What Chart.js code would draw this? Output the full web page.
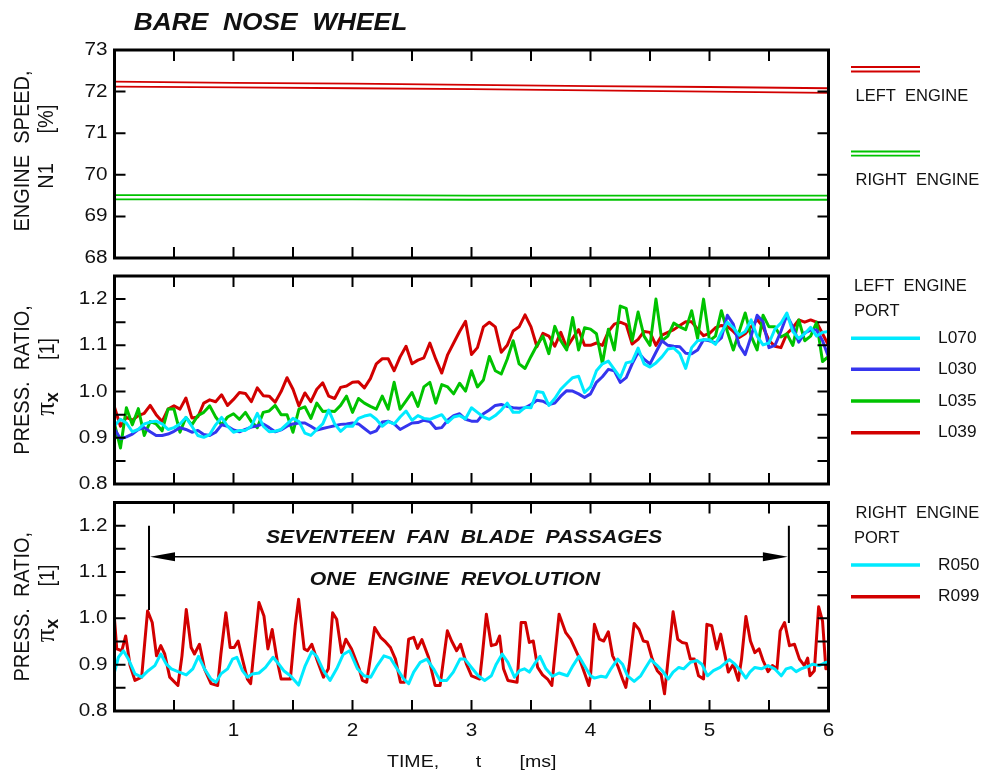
<!DOCTYPE html>
<html>
<head>
<meta charset="utf-8">
<script src="https://cdn.jsdelivr.net/npm/chart.js@4.4.1/dist/chart.umd.min.js"></script>
<style>
  html, body { margin: 0; padding: 0; background: #fff; }
  #wrap { position: relative; width: 987px; height: 774px; }
  .panel { position: absolute; left: 0; top: 0; width: 987px; height: 774px; }
</style>
</head>
<body>
<div id="wrap">
  <div class="panel"><canvas id="speed"></canvas></div>
  <div class="panel"><canvas id="left"></canvas></div>
  <div class="panel"><canvas id="right"></canvas></div>
</div>
<script>
// ============================================================
// Data
// ============================================================
const xTickValues = [1, 2, 3, 4, 5, 6];
const xTickLabels = ['1', '2', '3', '4', '5', '6'];
const xMinorTicks = [0.5, 1, 1.5, 2, 2.5, 3, 3.5, 4, 4.5, 5, 5.5];

const n1TickValues = [68, 69, 70, 71, 72, 73];
const n1TickLabels = ['68', '69', '70', '71', '72', '73'];
const n1MinorTicks = [69, 70, 71, 72];

const prTickValues = [0.8, 0.9, 1.0, 1.1, 1.2];
const prTickLabels = ['0.8', '0.9', '1.0', '1.1', '1.2'];
const prMinorTicks = [0.85, 0.9, 0.95, 1.0, 1.05, 1.1, 1.15, 1.2];

// engine speed N1 [%], two traces per engine
const n1Time   = [0, 1, 2, 3, 4, 5, 6];
const n1LeftA  = [72.24, 72.21, 72.19, 72.16, 72.13, 72.11, 72.08];
const n1LeftB  = [72.12, 72.10, 72.08, 72.06, 72.03, 72.00, 71.97];
const n1RightA = [69.51, 69.51, 69.51, 69.50, 69.50, 69.50, 69.50];
const n1RightB = [69.41, 69.41, 69.41, 69.40, 69.40, 69.40, 69.40];

// left engine ports, sampled every 0.05 ms from 0 to 6 ms
const portTime = [];
for (let i = 0; i <= 120; i++) portTime.push(+(i * 0.05).toFixed(2));

const l070 = [
  0.926,0.940,0.932,0.913,0.918,0.930,0.934,0.936,0.930,0.918,
  0.922,0.930,0.944,0.925,0.905,0.901,0.907,0.928,0.944,0.925,
  0.912,0.916,0.916,0.925,0.953,0.925,0.913,0.914,0.918,0.930,
  0.942,0.935,0.910,0.905,0.918,0.930,0.960,0.930,0.914,0.925,
  0.925,0.942,0.947,0.950,0.940,0.925,0.935,0.930,0.945,0.958,
  0.938,0.948,0.942,0.940,0.945,0.950,0.933,0.945,0.948,0.941,
  0.965,0.955,0.945,0.940,0.948,0.960,0.975,0.955,0.955,0.966,
  0.965,1.000,0.998,0.970,0.985,1.005,1.018,1.030,1.033,0.998,
  1.010,1.045,1.060,1.066,1.048,1.030,1.062,1.065,1.094,1.060,
  1.053,1.062,1.075,1.092,1.094,1.082,1.050,1.095,1.110,1.112,
  1.112,1.102,1.128,1.150,1.138,1.122,1.130,1.155,1.120,1.101,
  1.105,1.135,1.148,1.170,1.130,1.115,1.125,1.139,1.120,1.128,
  1.130
];
const l030 = [
  0.919,0.898,0.902,0.908,0.918,0.922,0.913,0.905,0.905,0.908,
  0.914,0.922,0.918,0.912,0.916,0.907,0.905,0.912,0.928,0.925,
  0.917,0.913,0.918,0.923,0.926,0.930,0.922,0.913,0.917,0.925,
  0.930,0.932,0.932,0.925,0.917,0.920,0.923,0.926,0.929,0.930,
  0.932,0.930,0.920,0.910,0.915,0.934,0.936,0.930,0.918,0.925,
  0.932,0.933,0.938,0.935,0.920,0.922,0.938,0.948,0.952,0.940,
  0.936,0.936,0.952,0.960,0.970,0.972,0.968,0.965,0.964,0.965,
  0.972,0.981,0.979,0.972,0.975,0.990,1.002,1.001,0.995,0.987,
  0.995,1.020,1.032,1.048,1.045,1.020,1.030,1.060,1.085,1.070,
  1.060,1.085,1.110,1.100,1.098,1.097,1.083,1.082,1.090,1.112,
  1.110,1.105,1.116,1.165,1.146,1.100,1.080,1.120,1.165,1.151,
  1.095,1.100,1.130,1.165,1.140,1.107,1.127,1.133,1.133,1.110,
  1.075
];
const l035 = [
  0.930,0.878,0.965,0.928,0.963,0.905,0.935,0.930,0.915,0.962,
  0.962,0.912,0.944,0.928,0.948,0.955,0.969,0.945,0.928,0.945,
  0.952,0.940,0.955,0.935,0.922,0.955,0.958,0.970,0.950,0.950,
  0.912,0.962,0.967,0.942,0.975,0.957,0.958,0.957,0.970,0.990,
  0.955,0.985,0.975,0.968,0.962,0.990,0.962,1.020,0.962,0.980,
  0.998,0.968,1.010,1.020,0.975,1.015,1.010,0.995,1.018,1.001,
  1.045,1.010,1.025,1.076,1.045,1.038,1.070,1.110,1.060,1.050,
  1.076,1.100,1.120,1.082,1.141,1.110,1.090,1.160,1.090,1.138,
  1.135,1.125,1.060,1.135,1.090,1.185,1.180,1.110,1.172,1.120,
  1.100,1.200,1.110,1.120,1.148,1.140,1.134,1.175,1.115,1.200,
  1.110,1.120,1.175,1.130,1.090,1.130,1.170,1.120,1.090,1.165,
  1.140,1.140,1.118,1.125,1.100,1.155,1.110,1.120,1.150,1.065,
  1.076
];
const l039 = [
  0.966,0.925,0.944,0.938,0.948,0.953,0.970,0.950,0.935,0.962,
  0.969,0.962,0.986,0.943,0.945,0.975,0.982,0.978,0.993,0.970,
  0.983,0.998,0.996,0.978,1.008,0.991,0.990,0.977,1.000,1.030,
  1.005,0.969,0.997,0.978,1.005,1.019,0.990,0.985,1.009,1.012,
  1.020,1.021,1.008,1.028,1.060,1.071,1.071,1.045,1.075,1.098,
  1.060,1.068,1.073,1.105,1.070,1.040,1.080,1.105,1.130,1.152,
  1.080,1.095,1.140,1.150,1.140,1.085,1.100,1.131,1.140,1.166,
  1.140,1.097,1.126,1.120,1.098,1.128,1.095,1.115,1.134,1.100,
  1.100,1.105,1.100,1.130,1.146,1.150,1.145,1.103,1.113,1.130,
  1.128,1.100,1.122,1.128,1.134,1.143,1.151,1.151,1.135,1.121,
  1.126,1.138,1.143,1.141,1.130,1.117,1.125,1.140,1.156,1.140,
  1.110,1.098,1.095,1.125,1.138,1.155,1.150,1.155,1.150,1.125,
  1.100
];

// right engine ports, traced vertex by vertex
const r050Time = [
  0,0.033,0.075,0.117,0.172,0.228,0.283,0.339,0.389,0.436,
  0.478,0.533,0.603,0.658,0.706,0.756,0.811,0.853,0.894,0.950,
  0.992,1.028,1.075,1.117,1.158,1.214,1.269,1.333,1.381,1.422,
  1.478,1.547,1.603,1.658,1.700,1.756,1.811,1.867,1.922,1.975,
  2.042,2.097,2.153,2.208,2.264,2.319,2.375,2.431,2.472,2.514,
  2.569,2.625,2.681,2.736,2.792,2.847,2.903,2.944,3.000,3.056,
  3.111,3.167,3.208,3.258,3.306,3.361,3.403,3.444,3.486,3.528,
  3.575,3.625,3.681,3.736,3.806,3.853,3.903,3.958,
  4.000,4.033,4.089,4.131,4.172,4.228,4.269,4.311,4.367,4.422,
  4.464,4.506,4.561,4.603,4.653,4.694,4.742,4.783,4.839,4.894,
  4.936,4.983,5.033,5.089,5.167,5.214,5.261,5.306,5.339,5.381,
  5.436,5.492,5.547,5.603,5.644,5.686,5.728,5.769,5.825,5.867,
  5.922,5.978,6.000
];
const r050 = [
  0.884,0.916,0.930,0.912,0.880,0.873,0.887,0.898,0.923,0.901,
  0.891,0.885,0.878,0.891,0.918,0.891,0.869,0.862,0.880,0.891,
  0.912,0.916,0.887,0.873,0.880,0.882,0.894,0.916,0.901,0.887,
  0.876,0.856,0.898,0.928,0.918,0.887,0.866,0.891,0.922,0.930,
  0.891,0.876,0.873,0.898,0.919,0.914,0.891,0.869,0.859,0.884,
  0.905,0.912,0.891,0.866,0.866,0.884,0.912,0.912,0.894,0.876,
  0.866,0.876,0.901,0.923,0.905,0.873,0.887,0.891,0.884,0.901,
  0.918,0.891,0.875,0.882,0.876,0.898,0.918,0.894,
  0.876,0.871,0.875,0.873,0.891,0.912,0.901,0.876,0.864,0.876,
  0.894,0.911,0.898,0.887,0.869,0.884,0.894,0.891,0.905,0.909,
  0.901,0.876,0.887,0.894,0.911,0.901,0.887,0.871,0.884,0.894,
  0.891,0.898,0.891,0.876,0.891,0.894,0.885,0.891,0.896,0.901,
  0.898,0.905,0.905
];
const r099Time = [
  0,0.019,0.061,0.094,0.131,0.172,0.228,0.278,0.317,0.353,
  0.389,0.422,0.464,0.533,0.567,0.603,0.644,0.672,0.714,0.756,
  0.811,0.867,0.894,0.936,0.972,1.006,1.039,1.075,1.117,1.144,
  1.214,1.256,1.289,1.325,1.367,1.400,1.478,1.519,1.547,1.594,
  1.622,1.658,1.700,1.756,1.797,1.833,1.867,1.908,1.944,1.992,
  2.056,2.083,2.119,2.153,2.186,2.236,2.278,2.319,2.361,2.403,
  2.436,2.472,2.514,2.547,2.583,2.639,2.694,2.736,2.797,2.833,
  2.875,2.908,2.958,3.000,3.069,3.092,3.125,3.167,3.208,3.236,
  3.269,3.306,3.383,3.417,3.453,3.486,3.519,3.556,3.597,3.639,
  3.675,3.736,3.792,3.833,3.903,3.958,3.986,
  4.000,4.033,4.075,4.111,4.150,4.186,4.228,4.269,4.297,4.325,
  4.367,4.408,4.444,4.478,4.519,4.561,4.594,4.622,4.658,4.694,
  4.733,4.769,4.806,4.839,4.872,4.908,4.950,4.978,5.019,5.061,
  5.094,5.131,5.158,5.200,5.242,5.269,5.306,5.344,5.381,5.417,
  5.450,5.492,5.528,5.567,5.594,5.631,5.672,5.714,5.756,5.797,
  5.825,5.844,5.881,5.917,5.950,5.978,6.000
];
const r099 = [
  0.998,0.934,0.930,0.962,0.898,0.866,0.873,1.016,0.991,0.919,
  0.941,0.923,0.873,0.855,0.919,1.019,0.937,0.923,0.944,0.891,
  0.859,0.855,0.923,1.012,0.937,0.937,0.951,0.912,0.869,0.859,
  1.034,1.005,0.934,0.976,0.909,0.869,0.869,0.984,1.041,0.934,
  0.930,0.944,0.912,0.873,0.891,1.012,0.998,0.926,0.955,0.934,
  0.891,0.866,0.862,0.919,0.980,0.959,0.949,0.937,0.912,0.862,
  0.862,0.955,0.959,0.935,0.954,0.916,0.855,0.855,0.973,0.951,
  0.930,0.944,0.901,0.876,0.869,0.923,1.009,0.941,0.944,0.962,
  0.891,0.866,0.862,0.991,0.991,0.948,0.951,0.894,0.878,0.869,
  0.855,1.009,0.969,0.955,0.916,0.876,0.855,
  0.876,0.987,0.955,0.951,0.971,0.919,0.898,0.869,0.851,0.898,
  0.989,0.976,0.951,0.949,0.912,0.887,0.878,0.837,0.926,1.014,
  0.955,0.948,0.946,0.912,0.912,0.876,0.869,0.987,0.984,0.934,
  0.966,0.919,0.884,0.901,0.866,0.912,1.004,0.951,0.926,0.934,
  0.909,0.885,0.898,0.891,0.973,0.991,0.941,0.944,0.912,0.898,
  0.914,0.876,0.887,1.025,0.994,0.891,0.905
];

// "one engine revolution" marker, in data units
const revStart = 0.29;
const revEnd = 5.667;
const markerTop = 1.2;
const markerBottomStart = 1.018;
const markerBottomEnd = 0.99;
const arrowLevel = 1.133;

// ============================================================
// Style / layout
// ============================================================
const W = 987, H = 774;
const PLOT_L = 114.5, PLOT_R = 828.5;
const TICK_LEN = 11;
const SANS = '"Liberation Sans", Arial, sans-serif';

const RED = '#d20000';
const GREEN = '#00c300';
const BLUE = '#3535ee';
const CYAN = '#00eaff';
const INK = '#111';

// ============================================================
// Drawing helpers
// ============================================================
function pts(ts, vs) {
  return ts.map((t, i) => ({ x: t, y: vs[i] }));
}

function drawText(ctx, s, x, y, font, align, sx) {
  sx = sx || 1;
  ctx.save();
  ctx.font = font;
  ctx.fillStyle = INK;
  ctx.textBaseline = 'middle';
  ctx.textAlign = 'left';
  const w = ctx.measureText(s).width * sx;
  let x0 = x;
  if (align === 'center') x0 = x - w / 2;
  if (align === 'right') x0 = x - w;
  ctx.translate(x0, y);
  ctx.scale(sx, 1);
  ctx.fillText(s, 0, 0);
  ctx.restore();
}

// rotated text reading bottom-to-top, centred on (cx, cy)
function drawVText(ctx, s, cx, cy, font) {
  ctx.save();
  ctx.translate(cx, cy);
  ctx.rotate(-Math.PI / 2);
  ctx.scale(1, 1.08);
  ctx.font = font;
  ctx.fillStyle = INK;
  ctx.textBaseline = 'middle';
  ctx.textAlign = 'center';
  ctx.fillText(s, 0, 0);
  ctx.restore();
}

function drawPiX(ctx, cx, cy) {
  ctx.save();
  ctx.translate(cx, cy);
  ctx.rotate(-Math.PI / 2);
  ctx.fillStyle = INK;
  ctx.textBaseline = 'middle';
  const piFont = '27px "Liberation Serif", serif';
  const subFont = 'bold 18px ' + SANS;
  ctx.font = piFont;
  const w1 = ctx.measureText('\u03C0').width;
  ctx.font = subFont;
  const w2 = ctx.measureText('x').width;
  const x0 = -(w1 + w2) / 2;
  ctx.font = piFont;
  ctx.fillText('\u03C0', x0, -1);
  ctx.font = subFont;
  ctx.fillText('x', x0 + w1, 5);
  ctx.restore();
}

function frameAndTicks(chart, yMinor) {
  const ctx = chart.ctx, a = chart.chartArea;
  const xs = chart.scales.x, ys = chart.scales.y;
  ctx.save();
  ctx.strokeStyle = '#000';
  ctx.lineWidth = 2;
  ctx.beginPath();
  xMinorTicks.forEach(v => {
    const px = xs.getPixelForValue(v);
    ctx.moveTo(px, a.top); ctx.lineTo(px, a.top + TICK_LEN);
    ctx.moveTo(px, a.bottom); ctx.lineTo(px, a.bottom - TICK_LEN);
  });
  yMinor.forEach(v => {
    const py = ys.getPixelForValue(v);
    ctx.moveTo(a.left, py); ctx.lineTo(a.left + TICK_LEN, py);
    ctx.moveTo(a.right, py); ctx.lineTo(a.right - TICK_LEN, py);
  });
  ctx.stroke();
  ctx.lineWidth = 3;
  ctx.strokeRect(a.left, a.top, a.right - a.left, a.bottom - a.top);
  ctx.restore();
}

function yTickLabels(chart, values, labels) {
  const ys = chart.scales.y;
  values.forEach((v, i) => {
    drawText(chart.ctx, labels[i], 107.5, ys.getPixelForValue(v), '18px ' + SANS, 'right', 1.15);
  });
}

function legendLine(ctx, y, color, width) {
  ctx.save();
  ctx.strokeStyle = color;
  ctx.lineWidth = width;
  ctx.beginPath();
  ctx.moveTo(851, y);
  ctx.lineTo(920, y);
  ctx.stroke();
  ctx.restore();
}

function pressureTitle(ctx, a) {
  const mid = (a.top + a.bottom) / 2;
  drawVText(ctx, 'PRESS.  RATIO,', 23, mid, '20px ' + SANS);
  drawVText(ctx, '[1]', 48, a.top + 73, '20px ' + SANS);
  drawPiX(ctx, 48, a.top + 128);
}

// ============================================================
// Chart factory
// ============================================================
function makePanel(id, top, bottom, yMin, yMax, datasets, decorate) {
  return new Chart(document.getElementById(id), {
    type: 'line',
    data: { datasets },
    options: {
      responsive: true,
      maintainAspectRatio: false,
      animation: false,
      events: [],
      layout: { padding: { left: PLOT_L, right: W - PLOT_R, top: top, bottom: H - bottom } },
      plugins: { legend: { display: false }, tooltip: { enabled: false } },
      scales: {
        x: { type: 'linear', min: 0, max: 6, display: false },
        y: { type: 'linear', min: yMin, max: yMax, display: false },
      },
      elements: {
        point: { radius: 0 },
        line: { tension: 0, borderJoinStyle: 'round', borderCapStyle: 'round' },
      },
    },
    plugins: [{ id: 'decor', afterDatasetsDraw: decorate }],
  });
}

function line(data, color, width) {
  return { data, borderColor: color, borderWidth: width, pointRadius: 0, fill: false };
}

// ---------------- engine speed ----------------
makePanel('speed', 50, 258, 68, 73, [
  line(pts(n1Time, n1LeftA), RED, 1.8),
  line(pts(n1Time, n1LeftB), RED, 1.8),
  line(pts(n1Time, n1RightA), GREEN, 1.8),
  line(pts(n1Time, n1RightB), GREEN, 1.8),
], chart => {
  const ctx = chart.ctx, a = chart.chartArea;
  frameAndTicks(chart, n1MinorTicks);
  yTickLabels(chart, n1TickValues, n1TickLabels);

  drawText(ctx, 'BARE  NOSE  WHEEL', 270.5, 23.5, 'italic bold 23.5px ' + SANS, 'center', 1.12);

  drawVText(ctx, 'ENGINE  SPEED,', 23, (a.top + a.bottom) / 2 - 3, '20px ' + SANS);
  drawVText(ctx, '[%]', 47, 119, '20px ' + SANS);
  drawVText(ctx, 'N1', 47, 176, '20px ' + SANS);

  legendLine(ctx, 67, RED, 1.8);
  legendLine(ctx, 71.5, RED, 1.8);
  drawText(ctx, 'LEFT  ENGINE', 855.5, 96, '16.5px ' + SANS, 'left');
  legendLine(ctx, 151.5, GREEN, 1.8);
  legendLine(ctx, 155.7, GREEN, 1.8);
  drawText(ctx, 'RIGHT  ENGINE', 855.5, 180, '16.5px ' + SANS, 'left');
});

// ---------------- left engine ports ----------------
const leftLegend = [
  { label: 'L070', color: CYAN, y: 338.3 },
  { label: 'L030', color: BLUE, y: 369.3 },
  { label: 'L035', color: GREEN, y: 401 },
  { label: 'L039', color: RED, y: 432.7 },
];
makePanel('left', 276, 484, 0.8, 1.25, [
  line(pts(portTime, l070), CYAN, 3),
  line(pts(portTime, l030), BLUE, 3),
  line(pts(portTime, l035), GREEN, 3),
  line(pts(portTime, l039), RED, 3),
], chart => {
  const ctx = chart.ctx, a = chart.chartArea;
  frameAndTicks(chart, prMinorTicks);
  yTickLabels(chart, prTickValues, prTickLabels);
  pressureTitle(ctx, a);

  drawText(ctx, 'LEFT  ENGINE', 854, 286, '16.5px ' + SANS, 'left');
  drawText(ctx, 'PORT', 854, 311.5, '16.5px ' + SANS, 'left');
  leftLegend.forEach(e => {
    legendLine(ctx, e.y, e.color, 3.5);
    drawText(ctx, e.label, 938, e.y, '16.5px ' + SANS, 'left', 1.05);
  });
});

// ---------------- right engine ports ----------------
const rightLegend = [
  { label: 'R050', color: CYAN, y: 565 },
  { label: 'R099', color: RED, y: 596.7 },
];
makePanel('right', 502.5, 711, 0.8, 1.25, [
  line(pts(r050Time, r050), CYAN, 3),
  line(pts(r099Time, r099), RED, 3),
], chart => {
  const ctx = chart.ctx, a = chart.chartArea;
  const xs = chart.scales.x, ys = chart.scales.y;
  frameAndTicks(chart, prMinorTicks);
  yTickLabels(chart, prTickValues, prTickLabels);
  pressureTitle(ctx, a);

  // x axis labels and title
  xTickValues.forEach((v, i) => {
    drawText(ctx, xTickLabels[i], xs.getPixelForValue(v), 731, '18px ' + SANS, 'center', 1.15);
  });
  drawText(ctx, 'TIME,', 387, 762, '17px ' + SANS, 'left', 1.15);
  drawText(ctx, 't', 478.5, 762, '17px ' + SANS, 'center', 1.15);
  drawText(ctx, '[ms]', 519.5, 762, '17px ' + SANS, 'left', 1.15);

  // revolution marker
  const xl = xs.getPixelForValue(revStart), xr = xs.getPixelForValue(revEnd);
  const yt = ys.getPixelForValue(markerTop);
  const ya = ys.getPixelForValue(arrowLevel);
  ctx.save();
  ctx.strokeStyle = '#000';
  ctx.fillStyle = '#000';
  ctx.lineWidth = 2;
  ctx.beginPath();
  ctx.moveTo(xl, yt); ctx.lineTo(xl, ys.getPixelForValue(markerBottomStart));
  ctx.moveTo(xr, yt); ctx.lineTo(xr, ys.getPixelForValue(markerBottomEnd));
  ctx.stroke();
  ctx.lineWidth = 1.6;
  ctx.beginPath();
  ctx.moveTo(xl + 20, ya); ctx.lineTo(xr - 20, ya);
  ctx.stroke();
  ctx.beginPath();
  ctx.moveTo(xl + 1, ya); ctx.lineTo(xl + 26, ya - 4.5); ctx.lineTo(xl + 26, ya + 4.5); ctx.closePath();
  ctx.moveTo(xr - 1, ya); ctx.lineTo(xr - 26, ya - 4.5); ctx.lineTo(xr - 26, ya + 4.5); ctx.closePath();
  ctx.fill();
  ctx.restore();
  drawText(ctx, 'SEVENTEEN  FAN  BLADE  PASSAGES', 464, 538.5, 'italic bold 18px ' + SANS, 'center', 1.18);
  drawText(ctx, 'ONE  ENGINE  REVOLUTION', 455, 580.5, 'italic bold 18px ' + SANS, 'center', 1.18);

  drawText(ctx, 'RIGHT  ENGINE', 855.5, 513, '16.5px ' + SANS, 'left');
  drawText(ctx, 'PORT', 854, 538.5, '16.5px ' + SANS, 'left');
  rightLegend.forEach(e => {
    legendLine(ctx, e.y, e.color, 3.5);
    drawText(ctx, e.label, 938, e.y, '16.5px ' + SANS, 'left', 1.05);
  });
});
</script>
</body>
</html>
